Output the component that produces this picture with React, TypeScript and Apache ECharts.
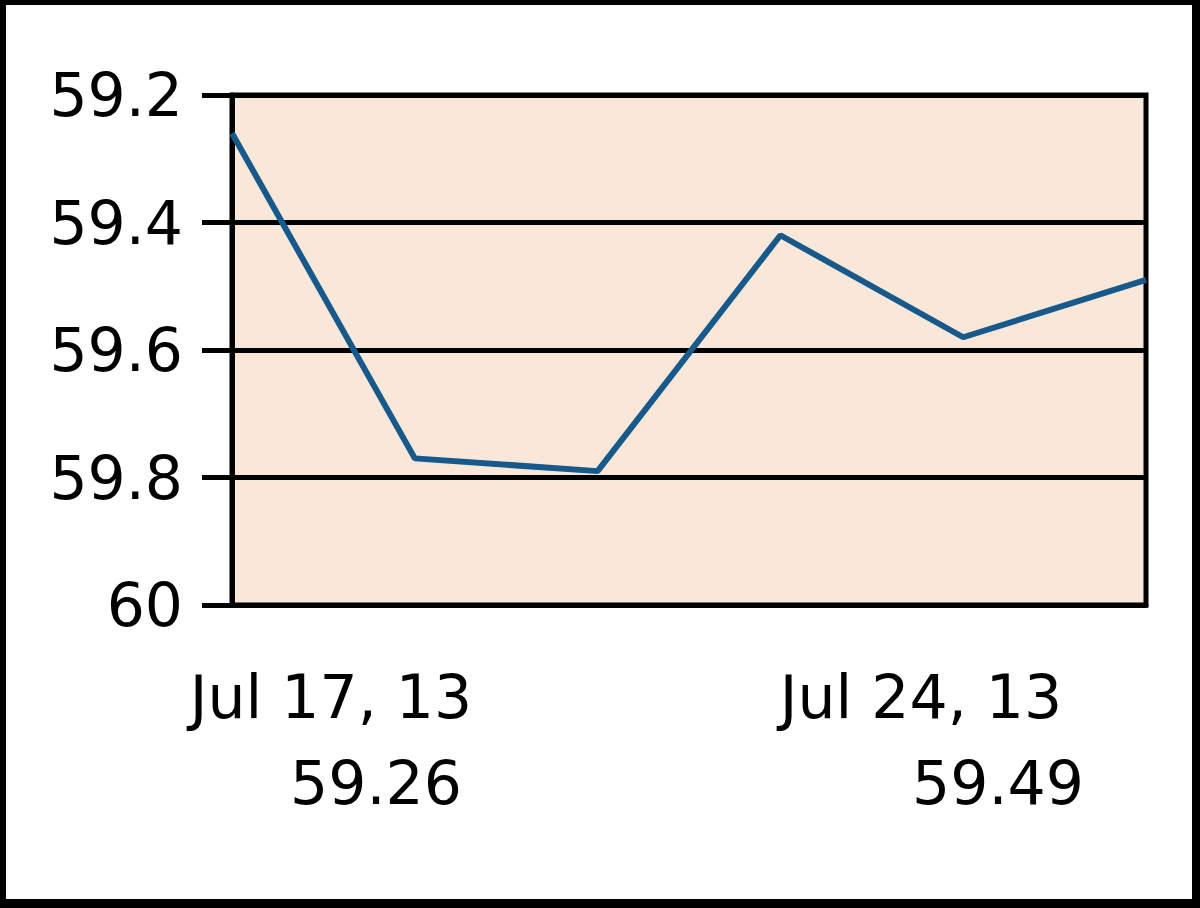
import React, { useEffect, useRef } from "react";
import * as echarts from "echarts";

// Data
const dates: string[] = ["Jul 17, 13", "Jul 18, 13", "Jul 19, 13", "Jul 22, 13", "Jul 23, 13", "Jul 24, 13"];
const prices: number[] = [59.26, 59.77, 59.79, 59.42, 59.58, 59.49];
const yTicks: number[] = [59.2, 59.4, 59.6, 59.8, 60];

const FONT = "'DejaVu Sans', 'Liberation Sans', Arial, sans-serif";

export default function App() {
  const ref = useRef<HTMLDivElement>(null);

  useEffect(() => {
    document.body.style.margin = "0";
    if (!ref.current) return;
    const chart = echarts.init(ref.current, null, { renderer: "svg" });
    const first = 0;
    const last = dates.length - 1;
    const textStyle = { fill: "#000", font: `60px ${FONT}`, align: "center", verticalAlign: "middle" };
    chart.setOption({
      animation: false,
      backgroundColor: "#ffffff",
      grid: {
        left: 232,
        right: 54,
        top: 95,
        bottom: 303,
        show: true,
        backgroundColor: "#F9E8D9",
        borderColor: "#000",
        borderWidth: 5,
        containLabel: false,
      },
      xAxis: {
        type: "category",
        data: dates,
        boundaryGap: false,
        axisLine: { show: true, lineStyle: { color: "#000", width: 5 } },
        axisTick: { show: false },
        axisLabel: { show: false },
        splitLine: { show: false },
      },
      yAxis: {
        type: "value",
        inverse: true,
        min: yTicks[0],
        max: yTicks[yTicks.length - 1],
        interval: 0.2,
        axisLine: { show: true, lineStyle: { color: "#000", width: 5 } },
        axisTick: { show: true, length: 30, lineStyle: { color: "#000", width: 5 } },
        axisLabel: {
          margin: 49,
          color: "#000",
          fontSize: 60,
          fontFamily: FONT,
          formatter: (v: number) => String(Number(v.toFixed(1))),
        },
        splitLine: { show: true, lineStyle: { color: "#000", width: 5 } },
      },
      series: [
        {
          type: "line",
          data: prices,
          showSymbol: false,
          symbol: "none",
          lineStyle: { color: "#17598A", width: 6 },
        },
      ],
      graphic: [
        { type: "text", x: 331, y: 697, style: { ...textStyle, text: dates[first] } },
        { type: "text", x: 376, y: 783, style: { ...textStyle, text: prices[first].toFixed(2) } },
        { type: "text", x: 921, y: 697, style: { ...textStyle, text: dates[last] } },
        { type: "text", x: 998, y: 783, style: { ...textStyle, text: prices[last].toFixed(2) } },
      ],
    });
    return () => chart.dispose();
  }, []);

  return (
    <div style={{ position: "relative", width: 1200, height: 908 }}>
      <div ref={ref} style={{ position: "absolute", left: 0, top: 0, width: 1200, height: 908 }} />
      <div
        style={{
          position: "absolute",
          left: 0,
          top: 0,
          width: 1200,
          height: 908,
          boxSizing: "border-box",
          borderLeft: "6px solid #000",
          borderTop: "5px solid #000",
          borderRight: "8px solid #000",
          borderBottom: "9px solid #000",
          pointerEvents: "none",
        }}
      />
    </div>
  );
}
